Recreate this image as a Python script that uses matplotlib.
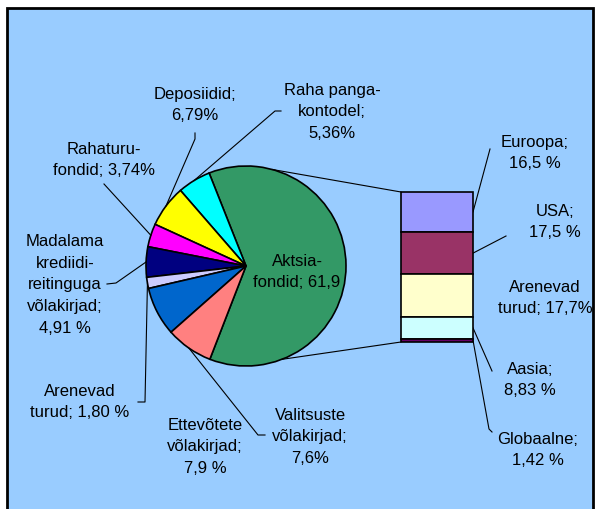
import numpy as np
import matplotlib.pyplot as plt
from matplotlib.patches import Rectangle, ConnectionPatch

plt.rcParams['font.family'] = ['Liberation Sans', 'DejaVu Sans']

# Fund types, % of portfolio (pie, counter-clockwise from the big slice)
pie_labels = ["Aktsia-\nfondid; 61,9", "Raha panga-\nkontodel;\n5,36%",
              "Deposiidid;\n6,79%", "Rahaturu-\nfondid; 3,74%",
              "Madalama\nkrediidi-\nreitinguga\nvõlakirjad;\n4,91 %",
              "Arenevad\nturud; 1,80 %", "Ettevõtete\nvõlakirjad;\n7,9 %",
              "Valitsuste\nvõlakirjad;\n7,6%"]
pie_values = [61.9, 5.36, 6.79, 3.74, 4.91, 1.80, 7.9, 7.6]
pie_colors = ['#339966', '#00FFFF', '#FFFF00', '#FF00FF', '#000080',
              '#CCCCFF', '#0066CC', '#FF8080']

# Equity funds split by region (bar, top to bottom)
bar_labels = ["Euroopa;\n16,5 %", "USA;\n17,5 %", "Arenevad\nturud; 17,7%",
              "Aasia;\n8,83 %", "Globaalne;\n1,42 %"]
bar_values = [16.5, 17.5, 17.7, 8.83, 1.42]
bar_colors = ['#9999FF', '#993366', '#FFFFCC', '#CCFFFF', '#660066']

W, H = 600, 510
fig = plt.figure(figsize=(6, 5.1), dpi=100)
ax = fig.add_axes([0, 0, 1, 1])


def px(x, y):
    # pixel position (from top-left) -> data coords of main axes
    return x, H - y


# background panel
ax.add_patch(Rectangle((7, -10), 586, H - 9 + 10, facecolor='#99CCFF',
                       edgecolor='black', lw=2, zorder=0))

cx, cy = px(246, 267)
r = 100
wedges, _ = ax.pie(pie_values, colors=pie_colors, startangle=-111.2,
                   counterclock=True, center=(cx, cy), radius=r, frame=True,
                   wedgeprops=dict(edgecolor='black', linewidth=1.2))
for w in wedges:
    w.set_zorder(2)
ax.set_xlim(0, W)
ax.set_ylim(0, H)
ax.set_aspect('auto')
ax.axis('off')

# label text positions (pixels)
pie_pos = [(297, 272), (332, 112), (195, 105), (104, 160), (65, 285),
           (80, 402), (205, 447), (310, 437)]
bar_pos = [(535, 153), (555, 222), (545, 298), (530, 380), (538, 450)]

for lab, (x, y) in zip(pie_labels, pie_pos):
    ax.text(*px(x, y), lab, ha='center', va='center', fontsize=12,
            linespacing=1.55, zorder=6)
for lab, (x, y) in zip(bar_labels, bar_pos):
    ax.text(*px(x, y), lab, ha='center', va='center', fontsize=12,
            linespacing=1.55, zorder=6, clip_on=False)

# leader lines for pie slices: slice midpoint -> bend points
pie_leaders = {1: [(275, 112), (281, 112)],
               2: [(195, 140), (195, 134)],
               3: [(104, 185)],
               4: [(116, 284), (107, 285)],
               5: [(145, 403), (138, 403)],
               7: [(258, 436), (265, 436)]}
for i, pts in pie_leaders.items():
    w = wedges[i]
    a = np.deg2rad((w.theta1 + w.theta2) / 2)
    xs = [cx + r * np.cos(a)] + [p[0] for p in pts]
    ys = [cy + r * np.sin(a)] + [H - p[1] for p in pts]
    ax.plot(xs, ys, color='black', lw=0.8, zorder=3)

# stacked bar for the equity slice
total = sum(bar_values)
bottoms = [sum(bar_values[i + 1:]) for i in range(len(bar_values))]
bax = fig.add_axes([401 / W, (H - 343) / H, 72 / W, 150 / H])
bax.bar(0, bar_values, bottom=bottoms, width=1, color=bar_colors,
        edgecolor='black', linewidth=1.2, clip_on=False)
bax.set_xlim(-0.5, 0.5)
bax.set_ylim(0, total)
bax.axis('off')

# pie -> bar connector lines
for ang, yb in [(75, total), (-69, 0)]:
    a = np.deg2rad(ang)
    con = ConnectionPatch(xyA=(cx + r * np.cos(a), cy + r * np.sin(a)),
                          coordsA=ax.transData, xyB=(-0.5, yb),
                          coordsB=bax.transData, color='black', lw=0.8)
    fig.add_artist(con)

# bar leader lines
to_main = bax.transData + ax.transData.inverted()
bar_leaders = {0: [(490, 150)],
               1: [(506, 237)],
               3: [(492, 372)],
               4: [(489, 430), (492, 433)]}
for i, pts in bar_leaders.items():
    sx, sy = to_main.transform((0.5, bottoms[i] + bar_values[i] / 2))
    xs = [sx] + [p[0] for p in pts]
    ys = [sy] + [H - p[1] for p in pts]
    ax.plot(xs, ys, color='black', lw=0.8, zorder=3)

fig.savefig('out.png', dpi=100, facecolor='white')
